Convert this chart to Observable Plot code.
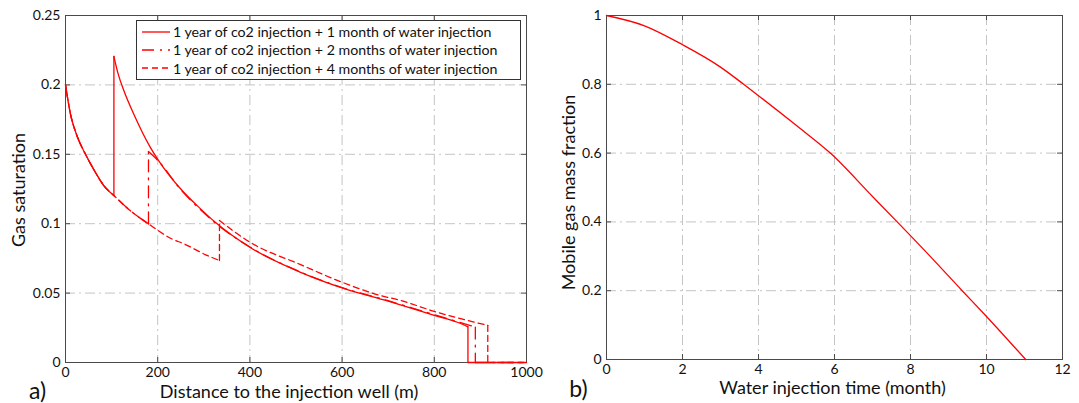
<!DOCTYPE html>
<html>
<head>
<meta charset="utf-8">
<script src="https://cdn.jsdelivr.net/npm/d3@7"></script>
<script src="https://cdn.jsdelivr.net/npm/@observablehq/plot@0.6"></script>
<style>
  body { margin: 0; background: #fff; }
  #wrap { position: relative; width: 1079px; height: 403px; overflow: hidden; font-family: Lato, sans-serif; background: #fff; }
  #wrap > svg { position: absolute; top: 0; }
  #legend { position: absolute; left: 136px; top: 20px; width: 383px; height: 56px; border: 1px solid #333; background: #fff; box-sizing: content-box; padding-top: 1.5px; }
  .lrow { height: 18.3px; display: flex; align-items: center; padding-left: 5px; font-size: 14.2px; color: #111; white-space: nowrap; }
  .lrow svg { margin-right: 3px; flex: none; }
</style>
</head>
<body>
<div id="wrap"><div id="legend"></div></div>
<script>
// ---------- data ----------
// Panel a) gas saturation vs distance (m)
const s1x = [0, 10.8, 25.3, 43.4, 61.4, 83, 105, 105, 115, 126.5, 148, 184, 202, 250, 293, 325, 400, 510, 600, 700, 800, 850, 873, 873, 1000];
const s1y = [0.2, 0.179, 0.163, 0.150, 0.139, 0.1275, 0.1203, 0.2205, 0.207, 0.196, 0.179, 0.155, 0.1455, 0.125, 0.1107, 0.101, 0.083, 0.065, 0.0538, 0.0442, 0.034, 0.029, 0.0257, 0, 0];

const s2x = [0, 10.8, 25.3, 43.4, 61.4, 83, 105, 142, 180, 180, 202, 250, 293, 325, 400, 510, 600, 700, 800, 850, 889, 889, 1000];
const s2y = [0.2, 0.179, 0.163, 0.150, 0.139, 0.1275, 0.1203, 0.109, 0.0999, 0.152, 0.145, 0.1245, 0.110, 0.1005, 0.0832, 0.0652, 0.054, 0.0445, 0.0345, 0.0295, 0.0255, 0, 0];

const s3x = [0, 10.8, 25.3, 43.4, 61.4, 83, 105, 142, 180, 231, 257, 304, 334, 334, 400, 510, 600, 683, 727, 800, 916, 916, 1000];
const s3y = [0.2, 0.179, 0.163, 0.150, 0.139, 0.1275, 0.1203, 0.109, 0.0999, 0.089, 0.0855, 0.0776, 0.0735, 0.1023, 0.0867, 0.0705, 0.0578, 0.0483, 0.0447, 0.0368, 0.0267, 0, 0];

const legendLabels = [
  "1 year of co2 injection + 1 month of water injection",
  "1 year of co2 injection + 2 months of water injection",
  "1 year of co2 injection + 4 months of water injection"
];

// Panel b) mobile gas mass fraction vs water injection time (month)
const timeM = [0, 1, 2, 3, 3.61, 4, 5, 5.89, 7, 7.65, 8.5, 9.36, 10, 11.03];
const mobileFrac = [1.0, 0.97, 0.915, 0.85, 0.8, 0.767, 0.68, 0.6, 0.474, 0.4, 0.302, 0.2, 0.125, 0];

// tick values
const distTicks = [0, 200, 400, 600, 800, 1000];
const satTicks = [0, 0.05, 0.1, 0.15, 0.2, 0.25];
const timeTicks = [0, 2, 4, 6, 8, 10, 12];
const fracTicks = [0, 0.2, 0.4, 0.6, 0.8, 1];

// ---------- styles ----------
const RED = "#ff0000";
const GRID = "#c4c4c4";
const GRID_DASH = "10,4,2,4";
const FRAME = "#4a4a4a";
const DASHES = [null, "12,6,2,6", "6,4"];
const FONT = "Lato, sans-serif";

// split a series into pieces at its vertical jumps
function pieces(xs, ys, name) {
  const out = [];
  let seg = 0;
  for (let i = 0; i < xs.length; i++) {
    if (i > 0 && xs[i] === xs[i - 1]) {
      seg++;
      out.push({x: xs[i - 1], y: ys[i - 1], z: name + seg});
      out.push({x: xs[i], y: ys[i], z: name + seg});
      seg++;
    }
    out.push({x: xs[i], y: ys[i], z: name + seg});
  }
  return out;
}

function frameMarks(xt, yt, xmin, xmax, ymin, ymax) {
  return [
    Plot.ruleX(xt, {stroke: GRID, strokeDasharray: GRID_DASH}),
    Plot.ruleY(yt, {stroke: GRID, strokeDasharray: GRID_DASH}),
    Plot.frame({stroke: FRAME, strokeWidth: 1}),
    Plot.ruleX(xt, {x: d => d, y1: ymin, y2: ymin, insetTop: -5, stroke: FRAME}),
    Plot.ruleX(xt, {x: d => d, y1: ymax, y2: ymax, insetBottom: -5, stroke: FRAME}),
    Plot.ruleY(yt, {y: d => d, x1: xmin, x2: xmin, insetRight: -5, stroke: FRAME}),
    Plot.ruleY(yt, {y: d => d, x1: xmax, x2: xmax, insetLeft: -5, stroke: FRAME})
  ];
}

const t1 = pieces(s1x, s1y, "a");
const t2 = pieces(s2x, s2y, "b");
const t3 = pieces(s3x, s3y, "c");

const left = Plot.plot({
  width: 540, height: 403,
  marginLeft: 65, marginRight: 14, marginTop: 15, marginBottom: 41,
  x: {domain: [0, 1000]},
  y: {domain: [0, 0.25]},
  style: {fontFamily: FONT, fontSize: "14px", color: "#111", background: "transparent", overflow: "visible"},
  marks: [
    ...frameMarks(distTicks, satTicks, 0, 1000, 0, 0.25),
    Plot.line(t3, {x: "x", y: "y", z: "z", stroke: RED, strokeWidth: 1.3, strokeDasharray: DASHES[2], curve: "monotone-x"}),
    Plot.line(t2, {x: "x", y: "y", z: "z", stroke: RED, strokeWidth: 1.3, strokeDasharray: DASHES[1], curve: "monotone-x"}),
    Plot.line(t1, {x: "x", y: "y", z: "z", stroke: RED, strokeWidth: 1.3, curve: "monotone-x"}),
    Plot.axisX({ticks: distTicks, tickSize: 0, tickPadding: 5, tickFormat: d => String(d), label: null}),
    Plot.axisY({ticks: satTicks, tickSize: 0, tickPadding: 5, tickFormat: d => String(d), label: null}),
    Plot.text(["Distance to the injection well (m)"], {text: d => d, frameAnchor: "bottom", textAnchor: "middle", lineAnchor: "middle", dx: -7, dy: 30, fontSize: 18, fill: "#111"}),
    Plot.text(["Gas saturation"], {text: d => d, frameAnchor: "left", textAnchor: "middle", lineAnchor: "middle", rotate: -90, dx: -46.5, dy: 1, fontSize: 18, fill: "#111"}),
    Plot.text(["a)"], {text: d => d, frameAnchor: "bottom-left", textAnchor: "middle", lineAnchor: "middle", dx: -28, dy: 29, fontSize: 23, fill: "#111"})
  ]
});
left.style.left = "0px";

const right = Plot.plot({
  width: 539, height: 403,
  marginLeft: 66, marginRight: 17, marginTop: 15, marginBottom: 44,
  x: {domain: [0, 12]},
  y: {domain: [0, 1]},
  style: {fontFamily: FONT, fontSize: "14px", color: "#111", background: "transparent", overflow: "visible"},
  marks: [
    ...frameMarks(timeTicks, fracTicks, 0, 12, 0, 1),
    Plot.line(timeM.map((t, i) => ({t, m: mobileFrac[i]})), {x: "t", y: "m", stroke: RED, strokeWidth: 1.3, curve: "monotone-x"}),
    Plot.axisX({ticks: timeTicks, tickSize: 0, tickPadding: 5, tickFormat: d => String(d), label: null}),
    Plot.axisY({ticks: fracTicks, tickSize: 0, tickPadding: 5, tickFormat: d => String(d), label: null}),
    Plot.text(["Water injection time (month)"], {text: d => d, frameAnchor: "bottom", textAnchor: "middle", lineAnchor: "middle", dx: -2, dy: 29, fontSize: 18, fill: "#111"}),
    Plot.text(["Mobile gas mass fraction"], {text: d => d, frameAnchor: "left", textAnchor: "middle", lineAnchor: "middle", rotate: -90, dx: -37, dy: 5, fontSize: 18, fill: "#111"}),
    Plot.text(["b)"], {text: d => d, frameAnchor: "bottom-left", textAnchor: "middle", lineAnchor: "middle", dx: -28, dy: 30, fontSize: 23, fill: "#111"})
  ]
});
right.style.left = "540px";

const wrap = document.getElementById("wrap");
wrap.insertBefore(right, wrap.firstChild);
wrap.insertBefore(left, wrap.firstChild);

// legend
const legend = document.getElementById("legend");
legendLabels.forEach((lab, i) => {
  const row = document.createElement("div");
  row.className = "lrow";
  const ns = "http://www.w3.org/2000/svg";
  const s = document.createElementNS(ns, "svg");
  s.setAttribute("width", 28); s.setAttribute("height", 6);
  const ln = document.createElementNS(ns, "line");
  ln.setAttribute("x1", 0); ln.setAttribute("x2", 28); ln.setAttribute("y1", 3); ln.setAttribute("y2", 3);
  ln.setAttribute("stroke", RED); ln.setAttribute("stroke-width", 1.3);
  if (DASHES[i]) ln.setAttribute("stroke-dasharray", DASHES[i]);
  s.appendChild(ln);
  row.appendChild(s);
  const span = document.createElement("span");
  span.textContent = lab;
  row.appendChild(span);
  legend.appendChild(row);
});
</script>
</body>
</html>
